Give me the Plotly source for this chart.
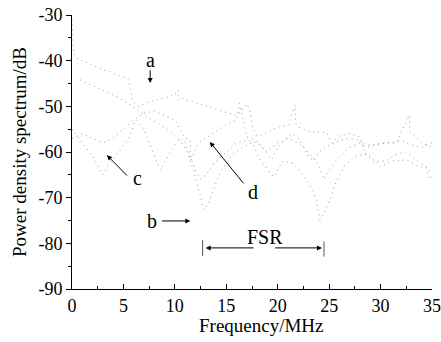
import plotly.graph_objects as go

# ---- data ----
a_x = [0, 0.05, 0.15, 0.5, 1, 1.5, 2, 2.5, 3, 3.5, 4, 4.5, 5, 5.5, 5.7, 5.9, 6.5, 7.5, 8.5, 9.5, 10, 10.3, 10.35, 10.6, 11, 12, 13, 14, 15, 16, 16.5, 17, 17.3, 17.6, 18, 19, 20, 21, 21.7, 21.75, 22, 23, 24, 24.8, 25.2, 26, 27, 28, 28.5, 29.3, 30.5, 31.5, 32.5, 33.3, 34, 35]
a_y = [-31, -35, -38.5, -39.5, -40, -40.5, -41, -41.5, -42, -42.3, -42.8, -43.2, -43.6, -44.2, -46, -49, -50, -49, -48.5, -47.8, -47.5, -46.4, -48.6, -48, -48.5, -49.2, -50, -50.7, -51.3, -52, -51, -49.5, -51, -55, -56.5, -55.8, -54.5, -54.2, -49.7, -53.7, -54.5, -55.5, -55.6, -55.8, -58, -56.5, -56, -56.7, -60.5, -62, -62, -60.5, -60, -61.5, -62.5, -64.5]

b_x = [0.8, 1.5, 2.5, 3.5, 4.5, 5.5, 6.5, 7.5, 8.5, 9.5, 10.5, 11.2, 11.8, 12.3, 12.8, 13.3, 13.8, 14.5, 15.5, 16.5, 17.5, 18.3, 19.6, 20.5, 21.5, 22.3, 23.4, 23.8, 24.1, 24.5, 25.1, 25.6, 26.5, 27.5, 28.7, 30, 31, 32.5, 33.5, 34.5, 34.8, 35]
b_y = [-44.2, -45, -46, -47, -48, -49.5, -51, -52.5, -54, -55.5, -57.5, -60, -64, -68, -72.7, -71, -68, -64, -61, -59, -58, -61.7, -65.5, -62, -62.5, -64.5, -68.3, -71, -74.9, -73, -70.5, -67, -63, -61, -60.3, -63.3, -62, -61.7, -63, -63.5, -66, -65.5]

c_x = [0, 1, 2, 2.5, 3, 3.5, 4.5, 5.5, 6.2, 7, 7.5, 8.6, 9.3, 9.8, 10.5, 11, 11.5, 12, 12.5, 13, 14, 15, 16, 17, 18, 19, 20, 21, 22, 23, 24, 24.5, 25, 26, 27, 28, 29, 30, 31, 32, 33, 34, 35]
c_y = [-55, -58, -61, -63, -65, -63, -60, -57, -53, -55, -58, -64, -61, -59, -57, -58, -61, -64, -66, -65, -62, -60, -58, -57.5, -58, -60, -58, -57, -58, -60, -63, -66, -64, -61, -59, -58, -58.5, -58, -58, -57.5, -58.5, -59, -58]

d_x = [0, 1, 2, 3, 4, 5, 6, 7, 8, 9, 10, 10.5, 11, 11.5, 11.55, 12.3, 13, 14, 15, 16, 16.3, 17, 17.8, 18.5, 19.4, 20, 20.7, 21.5, 22, 22.5, 23, 23.5, 24, 25, 26, 27, 28, 28.5, 29.5, 30.5, 31.5, 32.8, 32.85, 34, 35]
d_y = [-57, -56, -57, -58, -57, -55, -53, -51.5, -51, -52, -53, -55, -57, -57.4, -61.8, -58, -57, -55.5, -54, -53, -49.3, -56.7, -57.4, -59, -61.7, -59, -57.4, -56, -57, -59, -61, -62, -60, -58.5, -57.5, -57, -57.5, -59, -58.5, -58, -58, -52, -55.5, -58, -59]

x_ticks = [0, 5, 10, 15, 20, 25, 30, 35]
x_tick_text = ["0", "5", "10", "15", "20", "25", "30", "35"]
y_ticks = [-90, -80, -70, -60, -50, -40, -30]
y_tick_text = ["-90", "-80", "-70", "-60", "-50", "-40", "-30"]

FONT = "Liberation Serif, Times New Roman, serif"

fig = go.Figure()
for xs, ys in [(a_x, a_y), (b_x, b_y), (c_x, c_y), (d_x, d_y)]:
    fig.add_trace(go.Scatter(
        x=xs, y=ys, mode="lines",
        line=dict(color="#9a9a9a", width=1, dash="1px,4px"),
        showlegend=False, hoverinfo="skip"))

arrow = dict(showarrow=True, arrowhead=2, arrowsize=1, arrowwidth=1,
             arrowcolor="black", axref="x", ayref="y", xref="x", yref="y")
lab = dict(font=dict(family=FONT, size=20, color="black"), showarrow=False, xref="x", yref="y")

ann = [
    dict(x=7.6, y=-39.8, text="a", **lab),
    dict(x=7.6, y=-44.9, ax=7.6, ay=-41.8, text="", **arrow),
    dict(x=7.8, y=-75.0, text="b", **lab),
    dict(x=11.5, y=-75.1, ax=8.6, ay=-75.1, text="", **arrow),
    dict(x=6.4, y=-65.8, text="c", **lab),
    dict(x=3.4, y=-60.7, ax=5.5, ay=-65.5, text="", **arrow),
    dict(x=17.6, y=-68.8, text="d", **lab),
    dict(x=13.4, y=-57.8, ax=16.8, ay=-67.2, text="", **arrow),
    dict(x=18.8, y=-78.6, text="FSR", **lab),
    dict(x=13.0, y=-81.0, ax=17.8, ay=-81.0, text="", **arrow),
    dict(x=24.3, y=-81.0, ax=19.6, ay=-81.0, text="", **arrow),
]
for a in ann:
    fig.add_annotation(**a)

# x-axis title (placed slightly right of centre as in the reference)
fig.add_annotation(x=0.525, y=0, xref="paper", yref="paper", yshift=-36, yanchor="middle",
                   text="Frequency/MHz", showarrow=False,
                   font=dict(family=FONT, size=19, color="black"))

fig.add_shape(type="line", x0=12.7, x1=12.7, y0=-79.3, y1=-82.8, xref="x", yref="y",
              line=dict(color="#555", width=1))
fig.add_shape(type="line", x0=24.5, x1=24.5, y0=-79.6, y1=-82.9, xref="x", yref="y",
              line=dict(color="#555", width=1))

fig.update_layout(
    width=441, height=342,
    margin=dict(l=72, r=9, t=15, b=53),
    paper_bgcolor="white", plot_bgcolor="white",
    font=dict(family=FONT, size=17, color="black"),
)
fig.update_xaxes(
    range=[0, 35], tickvals=x_ticks, ticktext=x_tick_text, showline=True, linecolor="black", linewidth=1,
    ticks="inside", ticklen=5, tickcolor="black", showgrid=False, zeroline=False,
    minor=dict(ticks="inside", ticklen=3, dtick=2.5, tick0=0, tickcolor="black", showgrid=False),
    tickfont=dict(family=FONT, size=18, color="black"), automargin=False,
)
fig.update_yaxes(
    range=[-90, -30], tickvals=y_ticks, ticktext=y_tick_text, showline=True, linecolor="black",
    linewidth=1, ticks="outside", ticklen=5, tickcolor="black", showgrid=False, zeroline=False,
    minor=dict(ticks="outside", ticklen=3, dtick=5, tick0=0, tickcolor="black", showgrid=False),
    title=dict(text="Power density spectrum/dB", font=dict(family=FONT, size=19), standoff=6),
    tickfont=dict(family=FONT, size=18, color="black"), automargin=False,
)

fig.write_html("out.html")
